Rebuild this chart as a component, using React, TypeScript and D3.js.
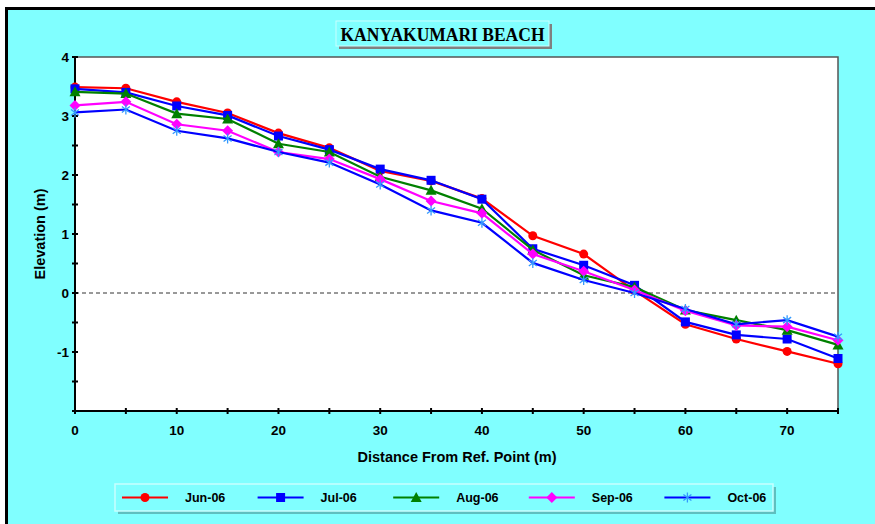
import React, { useEffect, useRef } from "react";
import * as d3 from "d3";

// distance from reference point (m)
const distances = [0, 5, 10, 15, 20, 25, 30, 35, 40, 45, 50, 55, 60, 65, 70, 75];

const jun06 = [3.49, 3.47, 3.24, 3.05, 2.71, 2.46, 2.07, 1.9, 1.6, 0.97, 0.66, 0.04, -0.53, -0.78, -0.99, -1.2];
const jul06 = [3.46, 3.4, 3.17, 3.01, 2.66, 2.43, 2.1, 1.91, 1.59, 0.75, 0.47, 0.13, -0.49, -0.71, -0.78, -1.11];
const aug06 = [3.41, 3.38, 3.04, 2.95, 2.53, 2.39, 1.97, 1.74, 1.43, 0.73, 0.3, 0.1, -0.29, -0.46, -0.63, -0.88];
const sep06 = [3.18, 3.24, 2.86, 2.75, 2.39, 2.27, 1.93, 1.56, 1.35, 0.66, 0.37, 0.05, -0.3, -0.55, -0.57, -0.8];
const oct06 = [3.06, 3.11, 2.75, 2.62, 2.39, 2.21, 1.84, 1.4, 1.19, 0.51, 0.22, 0.0, -0.27, -0.53, -0.46, -0.74];

const seriesNames = ["Jun-06", "Jul-06", "Aug-06", "Sep-06", "Oct-06"];
const seriesValues = [jun06, jul06, aug06, sep06, oct06];
const lineColors = ["#ff0000", "#0000ff", "#008000", "#ff00ff", "#0000ff"];
const markerColors = ["#ff0000", "#0000ff", "#008000", "#ff00ff", "#3399ff"];
const markerKinds = ["circle", "square", "triangle", "diamond", "star"];

const yTickLabels = [4, 3, 2, 1, 0, -1];
const xTickLabels = [0, 10, 20, 30, 40, 50, 60, 70];

const W = 875;
const H = 524;
const CYAN = "#80ffff";
const SANS = "Liberation Sans, Arial, sans-serif";

const App: React.FC = () => {
  const svgRef = useRef<SVGSVGElement | null>(null);

  useEffect(() => {
    if (!svgRef.current) return;
    const root = d3.select(svgRef.current);
    root.selectAll("*").remove();

    // page frame
    root.append("rect").attr("width", W).attr("height", H).attr("fill", "#ffffff");
    root.append("rect").attr("x", 5).attr("y", 7).attr("width", W).attr("height", H).attr("fill", "#000000");
    root.append("rect").attr("x", 8).attr("y", 10).attr("width", W).attr("height", H).attr("fill", CYAN);

    const x = d3.scaleLinear().domain([0, 75]).range([75, 838]);
    const y = d3.scaleLinear().domain([-2, 4]).range([411, 57]);

    // plot area
    root
      .append("rect")
      .attr("x", x(0))
      .attr("y", y(4))
      .attr("width", x(75) - x(0))
      .attr("height", y(-2) - y(4))
      .attr("fill", "#ffffff");
    root
      .append("path")
      .attr("d", `M${x(0)},${y(4)}H${x(75)}V${y(-2)}`)
      .attr("fill", "none")
      .attr("stroke", "#555")
      .attr("stroke-width", 1.5);

    // zero line
    root
      .append("line")
      .attr("x1", x(0))
      .attr("x2", x(75))
      .attr("y1", y(0))
      .attr("y2", y(0))
      .attr("stroke", "#333")
      .attr("stroke-width", 1)
      .attr("stroke-dasharray", "4,3");

    // y axis
    const yAx = root.append("g");
    yAx
      .append("line")
      .attr("x1", x(0))
      .attr("x2", x(0))
      .attr("y1", y(4))
      .attr("y2", y(-2))
      .attr("stroke", "#000")
      .attr("stroke-width", 2);
    yAx
      .selectAll("line.tick")
      .data(d3.range(-2, 4.01, 0.5))
      .enter()
      .append("line")
      .attr("class", "tick")
      .attr("x1", x(0) - 3)
      .attr("x2", x(0) + 3)
      .attr("y1", (d) => y(d))
      .attr("y2", (d) => y(d))
      .attr("stroke", "#000")
      .attr("stroke-width", 2);
    yAx
      .selectAll("text")
      .data(yTickLabels)
      .enter()
      .append("text")
      .attr("x", x(0) - 6)
      .attr("y", (d) => y(d) + 5)
      .attr("text-anchor", "end")
      .style("font-family", SANS)
      .style("font-weight", "bold")
      .style("font-size", "13.5px")
      .text((d) => `${d}`);

    // x axis
    const xAx = root.append("g");
    xAx
      .append("line")
      .attr("x1", x(0))
      .attr("x2", x(75))
      .attr("y1", y(-2))
      .attr("y2", y(-2))
      .attr("stroke", "#000")
      .attr("stroke-width", 2);
    xAx
      .selectAll("line.tick")
      .data(d3.range(0, 76, 5))
      .enter()
      .append("line")
      .attr("class", "tick")
      .attr("x1", (d) => x(d))
      .attr("x2", (d) => x(d))
      .attr("y1", y(-2) - 3)
      .attr("y2", y(-2) + 3)
      .attr("stroke", "#000")
      .attr("stroke-width", 2);
    xAx
      .selectAll("text")
      .data(xTickLabels)
      .enter()
      .append("text")
      .attr("x", (d) => x(d))
      .attr("y", 435)
      .attr("text-anchor", "middle")
      .style("font-family", SANS)
      .style("font-weight", "bold")
      .style("font-size", "13.5px")
      .text((d) => `${d}`);

    // axis titles
    root
      .append("text")
      .attr("x", 457)
      .attr("y", 462)
      .attr("text-anchor", "middle")
      .style("font-family", SANS)
      .style("font-weight", "bold")
      .style("font-size", "14.5px")
      .text("Distance From Ref. Point (m)");
    root
      .append("text")
      .attr("transform", `translate(45,${y(1)}) rotate(-90)`)
      .attr("text-anchor", "middle")
      .style("font-family", SANS)
      .style("font-weight", "bold")
      .style("font-size", "14.5px")
      .text("Elevation (m)");

    // marker drawing
    const drawMarker = (
      g: d3.Selection<SVGGElement, unknown, null, undefined>,
      kind: string,
      color: string,
      cx: number,
      cy: number
    ) => {
      if (kind === "circle") {
        g.append("circle").attr("cx", cx).attr("cy", cy).attr("r", 4.5).attr("fill", color);
      } else if (kind === "square") {
        g.append("rect").attr("x", cx - 4.5).attr("y", cy - 4.5).attr("width", 9).attr("height", 9).attr("fill", color);
      } else if (kind === "triangle") {
        g.append("path")
          .attr("d", `M${cx},${cy - 5.5}L${cx + 5.5},${cy + 4.5}L${cx - 5.5},${cy + 4.5}Z`)
          .attr("fill", color);
      } else if (kind === "diamond") {
        g.append("path")
          .attr("d", `M${cx},${cy - 5.5}L${cx + 5.5},${cy}L${cx},${cy + 5.5}L${cx - 5.5},${cy}Z`)
          .attr("fill", color);
      } else {
        g.append("path")
          .attr(
            "d",
            `M${cx},${cy - 5}V${cy + 5}M${cx - 4},${cy - 3}L${cx + 4},${cy + 3}M${cx - 4},${cy + 3}L${cx + 4},${cy - 3}`
          )
          .attr("stroke", color)
          .attr("stroke-width", 1.3)
          .attr("fill", "none");
      }
    };

    const line = d3
      .line<number>()
      .x((_, i) => x(distances[i]))
      .y((d) => y(d));

    const plot = root.append("g");
    seriesValues.forEach((vals, si) => {
      plot
        .append("path")
        .attr("d", line(vals) || "")
        .attr("fill", "none")
        .attr("stroke", lineColors[si])
        .attr("stroke-width", 2.2);
      const mg = plot.append("g");
      vals.forEach((v, i) => drawMarker(mg, markerKinds[si], markerColors[si], x(distances[i]), y(v)));
    });

    // title box
    const tg = root.append("g");
    tg.append("rect").attr("x", 339).attr("y", 24).attr("width", 213).attr("height", 25).attr("fill", "#808080");
    tg.append("rect")
      .attr("x", 336)
      .attr("y", 21)
      .attr("width", 213)
      .attr("height", 25)
      .attr("fill", CYAN)
      .attr("stroke", "#c8ffff")
      .attr("stroke-width", 1);
    tg.append("text")
      .attr("x", 442.5)
      .attr("y", 40.5)
      .attr("text-anchor", "middle")
      .attr("textLength", 204)
      .attr("lengthAdjust", "spacingAndGlyphs")
      .style("font-family", "Liberation Serif, Times New Roman, serif")
      .style("font-weight", "bold")
      .style("font-size", "18px")
      .text("KANYAKUMARI BEACH");

    // legend
    const lg = root.append("g");
    lg.append("rect").attr("x", 118).attr("y", 487).attr("width", 658).attr("height", 27).attr("fill", "#5fbfbf");
    lg.append("rect")
      .attr("x", 115)
      .attr("y", 484)
      .attr("width", 658)
      .attr("height", 27)
      .attr("fill", CYAN)
      .attr("stroke", "#c8ffff")
      .attr("stroke-width", 1.5);
    const legendX = d3.scaleBand<string>().domain(seriesNames).range([122, 800]);
    seriesNames.forEach((name, si) => {
      const lx = legendX(name) ?? 0;
      const ly = 497.5;
      lg.append("line")
        .attr("x1", lx)
        .attr("x2", lx + 46)
        .attr("y1", ly)
        .attr("y2", ly)
        .attr("stroke", lineColors[si])
        .attr("stroke-width", 2.2);
      drawMarker(lg, markerKinds[si], markerColors[si], lx + 23, ly);
      lg.append("text")
        .attr("x", lx + 63)
        .attr("y", ly + 4.5)
        .style("font-family", SANS)
        .style("font-weight", "bold")
        .style("font-size", "12.5px")
        .text(name);
    });
  }, []);

  return (
    <div style={{ position: "absolute", left: 0, top: 0, width: W, height: H }}>
      <svg ref={svgRef} width={W} height={H} style={{ display: "block" }}></svg>
    </div>
  );
};

export default App;
